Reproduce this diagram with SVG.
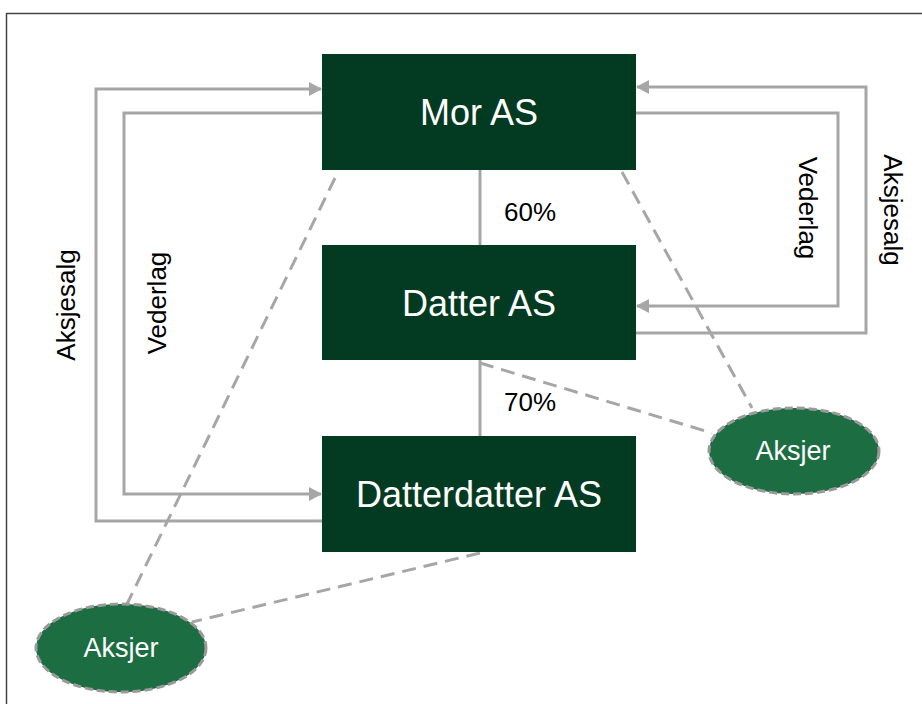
<svg xmlns="http://www.w3.org/2000/svg" width="922" height="704" viewBox="0 0 922 704">
<defs>
<marker id="ah" markerWidth="13" markerHeight="14" refX="12" refY="7" orient="auto" markerUnits="userSpaceOnUse">
<path d="M0,0 L13,7 L0,14 Z" fill="#a6a6a6"/>
</marker>
<style>
.box{fill:#033a22}
.bt{font-family:"Liberation Sans",Arial,sans-serif;font-size:36px;fill:#fff;text-anchor:middle;dominant-baseline:central}
.lbl{font-family:"Liberation Sans",Arial,sans-serif;font-size:26px;fill:#000;text-anchor:middle;dominant-baseline:central}
.ell{fill:#1d6d42;stroke:#9a9a9a;stroke-width:3;stroke-dasharray:8 4}
.et{font-family:"Liberation Sans",Arial,sans-serif;font-size:27px;fill:#fff;text-anchor:middle;dominant-baseline:central}
.ln{fill:none;stroke:#a6a6a6;stroke-width:3}
.dl{fill:none;stroke:#a6a6a6;stroke-width:3;stroke-dasharray:14 8}
</style>
</defs>
<rect x="0" y="0" width="922" height="704" fill="#fff"/>
<path d="M6.5,704 L6.5,13.5 L922,13.5" fill="none" stroke="#444" stroke-width="1.5"/>
<g id="connectors">
<line class="ln" x1="480" y1="170" x2="480" y2="245"/>
<line class="ln" x1="480" y1="360" x2="480" y2="436"/>
<polyline class="ln" points="322,521 96,521 96,89 321,89" marker-end="url(#ah)"/>
<polyline class="ln" points="322,113 124,113 124,494 321,494" marker-end="url(#ah)"/>
<polyline class="ln" points="636,333 866,333 866,87 637,87" marker-end="url(#ah)"/>
<polyline class="ln" points="636,113 838,113 838,306 637,306" marker-end="url(#ah)"/>
<line class="dl" x1="335" y1="178" x2="127" y2="604"/>
<line class="dl" x1="480" y1="553" x2="192" y2="622"/>
<line class="dl" x1="622" y1="172" x2="752" y2="408"/>
<line class="dl" x1="480" y1="363" x2="712" y2="433"/>
<text class="lbl" x="530" y="212">60%</text>
<text class="lbl" x="530" y="402">70%</text>
<text class="lbl" transform="translate(66,305) rotate(-90)">Aksjesalg</text>
<text class="lbl" transform="translate(157,303) rotate(-90)">Vederlag</text>
<text class="lbl" transform="translate(808,208) rotate(90)">Vederlag</text>
<text class="lbl" transform="translate(893,210) rotate(90)">Aksjesalg</text>
</g>
<g id="mor"><rect class="box" x="322" y="54" width="314" height="116"/><text class="bt" x="479" y="112">Mor AS</text></g>
<g id="datter"><rect class="box" x="322" y="245" width="314" height="115"/><text class="bt" x="479" y="303">Datter AS</text></g>
<g id="datterdatter"><rect class="box" x="322" y="436" width="314" height="116"/><text class="bt" x="479" y="494">Datterdatter AS</text></g>
<g id="aksjer1"><ellipse class="ell" cx="794" cy="451" rx="85" ry="43"/><text class="et" x="793" y="451">Aksjer</text></g>
<g id="aksjer2"><ellipse class="ell" cx="121" cy="648" rx="85" ry="44"/><text class="et" x="121" y="648">Aksjer</text></g>
</svg>
